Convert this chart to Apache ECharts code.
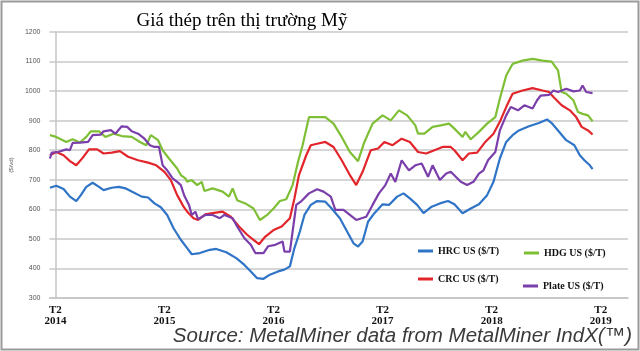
<!DOCTYPE html>
<html>
<head>
<meta charset="utf-8">
<script src="https://cdn.jsdelivr.net/npm/echarts@6/dist/echarts.min.js"></script>
<style>
html,body{margin:0;padding:0;background:#fff;}
#c{width:640px;height:351px;}
</style>
</head>
<body>
<div id="c"></div>
<script>
// x values: months since Feb 2014 (T2 2014 = 0)
const yearLabels = ['2014','2015','2016','2017','2018','2019'];
const tickMonths = [0, 12, 24, 36, 48, 60];

const hrcMonths = [-0.6,0.1,0.9,1.6,2.3,2.8,3.4,4.1,4.8,5.3,6.2,7.0,7.7,8.4,9.5,10.2,10.9,11.6,12.3,13.0,13.8,14.5,15.0,15.9,17.0,17.7,18.8,19.9,20.8,21.5,22.2,22.9,23.6,24.5,25.2,25.8,26.3,26.9,27.4,28.1,28.8,29.7,30.4,31.3,32.2,32.8,33.3,33.8,34.4,35.1,36.0,36.7,37.6,38.3,39.0,39.8,40.5,41.4,42.3,43.2,43.9,44.8,45.7,46.6,47.5,48.2,48.9,49.6,50.3,51.0,52.1,53.2,54.1,54.6,55.3,56.2,57.1,57.7,58.2,58.8,59.1];
const hrcValues = [673,680,669,643,628,648,676,690,676,665,673,676,671,660,643,640,620,607,581,536,497,469,448,452,463,466,455,435,412,390,367,365,379,390,396,407,469,525,581,615,628,626,603,570,519,485,474,491,558,587,617,615,643,654,637,615,587,609,620,628,617,587,603,617,648,693,772,828,851,867,881,892,904,892,867,834,817,783,766,749,736];

const crcMonths = [-0.6,0.1,0.9,1.6,2.3,3.0,3.7,4.6,5.3,6.2,7.1,8.0,9.1,10.2,11.1,12.0,12.7,13.4,13.8,14.1,14.5,15.2,15.7,16.5,17.3,18.4,19.3,20.2,21.1,21.8,22.4,23.1,24.0,24.9,25.8,26.3,26.8,27.6,28.1,28.8,29.7,30.6,31.5,32.4,33.1,33.8,34.7,35.5,36.2,37.1,38.1,39.0,39.9,40.8,41.7,42.6,43.5,43.9,44.8,45.5,46.4,47.3,48.2,48.9,49.6,50.3,51.4,52.5,53.6,54.3,54.8,55.7,56.6,57.3,57.9,58.6,59.1];
const crcValues = [783,794,783,763,749,774,803,803,789,792,797,778,766,758,749,727,699,648,626,609,592,570,564,583,587,592,575,542,514,497,482,508,530,542,570,637,716,783,817,822,828,811,766,716,682,727,800,806,828,817,839,828,794,789,800,811,811,800,766,789,792,828,856,896,946,991,1002,1010,1002,997,980,952,935,912,879,867,853];

const hdgMonths = [-0.6,0.1,1.2,1.9,2.7,3.4,3.9,4.8,5.5,6.4,7.3,8.4,9.3,10.0,10.5,11.3,11.8,12.5,13.4,13.8,14.3,14.5,15.0,15.6,16.1,16.4,17.3,18.4,19.1,19.5,20.0,20.9,21.8,22.5,23.3,24.0,24.7,25.4,26.1,26.7,27.2,27.9,28.6,29.7,30.6,31.5,32.4,33.3,34.0,34.9,36.0,36.9,37.8,38.7,39.6,39.9,40.6,41.5,42.4,43.3,43.9,44.8,45.1,45.7,46.6,47.5,48.4,48.9,49.6,50.3,51.4,52.5,53.6,54.6,55.3,55.7,56.2,57.0,57.5,58.0,58.6,59.1];
const hdgValues = [851,845,828,837,826,845,864,864,845,856,848,845,828,817,851,834,800,772,738,716,705,693,699,682,693,662,671,660,643,671,631,620,603,564,581,603,628,634,682,761,817,912,912,912,890,845,794,763,828,890,918,901,935,918,884,856,856,879,884,890,873,845,862,837,862,890,912,974,1053,1092,1103,1109,1103,1100,1070,997,991,969,929,923,918,898];

const plateMonths = [-0.6,-0.4,0.3,1.2,1.6,1.9,2.7,3.6,4.1,5.0,5.3,6.1,6.6,7.3,7.9,8.4,9.1,9.8,10.4,10.9,11.4,11.8,12.3,12.9,13.4,13.8,14.2,14.7,15.0,15.4,15.7,16.5,17.3,18.1,18.6,19.5,20.0,20.8,21.5,22.0,22.9,23.4,24.2,25.0,25.2,25.8,26.1,26.5,27.0,27.9,28.8,29.5,30.3,30.8,31.7,32.4,33.1,34.2,34.9,35.6,36.3,36.9,37.4,38.1,38.9,39.6,40.3,41.0,41.5,42.3,43.0,43.5,44.6,45.3,46.0,46.6,47.1,47.6,48.4,48.9,49.6,50.1,50.9,51.6,52.5,53.0,53.4,54.3,54.8,55.3,56.2,57.0,57.7,58.0,58.4,59.1];
const plateValues = [772,792,794,803,800,825,826,828,851,853,864,868,856,881,879,864,856,839,817,811,811,749,732,705,693,682,645,615,581,592,567,581,581,570,581,570,542,502,480,452,452,475,480,491,457,457,525,615,626,654,668,660,643,598,598,581,564,575,615,654,682,721,693,766,732,749,755,710,749,699,721,727,693,682,693,721,732,766,794,867,918,946,935,952,941,969,985,987,1002,997,1008,999,1002,1019,997,993];

const seriesNames = ['HRC US ($/T)','HDG US ($/T)','CRC US ($/T)','Plate US ($/T)'];
const seriesColors = ['#2f74c6','#7fbf36','#e2252b','#7b3fab'];

function pairs(xs, ys){ return xs.map((x,i)=>[x, ys[i]]); }
const seriesData = [pairs(hrcMonths,hrcValues), pairs(hdgMonths,hdgValues), pairs(crcMonths,crcValues), pairs(plateMonths,plateValues)];

const chart = echarts.init(document.getElementById('c'), null, {renderer:'canvas'});
const legendFont = {fontFamily:'Liberation Serif', fontWeight:'bold', fontSize:10, color:'#111'};
const legendPos = [[418,246],[524,248],[418,274],[523,281]];
const option = {
  animation:false,
  backgroundColor:'#fff',
  title:[
    {text:'Giá thép trên thị trường Mỹ', left:237, top:7, textAlign:'center',
      textStyle:{fontFamily:'Liberation Serif', fontWeight:'normal', fontSize:19, color:'#000'}},
    {text:'Source: MetalMiner data from MetalMiner IndX(™)', right:8, top:326, padding:0,
      textStyle:{fontFamily:'Liberation Sans', fontStyle:'italic', fontWeight:'normal', fontSize:20.5, color:'#3a3a3a'}}
  ],
  grid:{left:36, right:12, top:32, bottom:53},
  legend: seriesNames.map((n,i)=>({
    data:[n], left:legendPos[i][0], top:legendPos[i][1], itemWidth:15, itemHeight:3, itemGap:0,
    icon:'rect', textStyle:legendFont, padding:0
  })),
  xAxis:{type:'value', min:-0.65, max:63,
    axisLine:{show:true, lineStyle:{color:'#c4c4c4', width:1.5}},
    axisTick:{show:false},
    splitLine:{show:false},
    axisLabel:{customValues:tickMonths, margin:7, lineHeight:11,
      formatter:(v)=>'T2\n'+yearLabels[Math.round(v/12)],
      fontFamily:'Liberation Serif', fontWeight:'bold', fontSize:11, color:'#111'}
  },
  yAxis:{type:'value', min:300, max:1200, interval:100,
    name:'($/vd)', nameLocation:'middle', nameGap:24, nameRotate:90,
    nameTextStyle:{fontSize:6, color:'#555', fontFamily:'Liberation Sans'},
    axisLine:{show:true, lineStyle:{color:'#c4c4c4', width:1.5}},
    axisTick:{show:false},
    splitLine:{lineStyle:{color:'#c8c8c8', width:1.5}},
    axisLabel:{fontSize:7, color:'#555', margin:9, fontFamily:'Liberation Sans', formatter:(v)=>String(v)}
  },
  series: seriesNames.map((n,i)=>({
    name:n, type:'line', data:seriesData[i], symbol:'none', smooth:false,
    lineStyle:{color:seriesColors[i], width:2.2}, itemStyle:{color:seriesColors[i]}
  })),
  graphic:[
    {type:'rect', shape:{x:1.5,y:1.5,width:637,height:348}, style:{fill:'none', stroke:'#9a9a9a', lineWidth:2}, silent:true}
  ]
};
chart.setOption(option);
</script>
</body>
</html>
